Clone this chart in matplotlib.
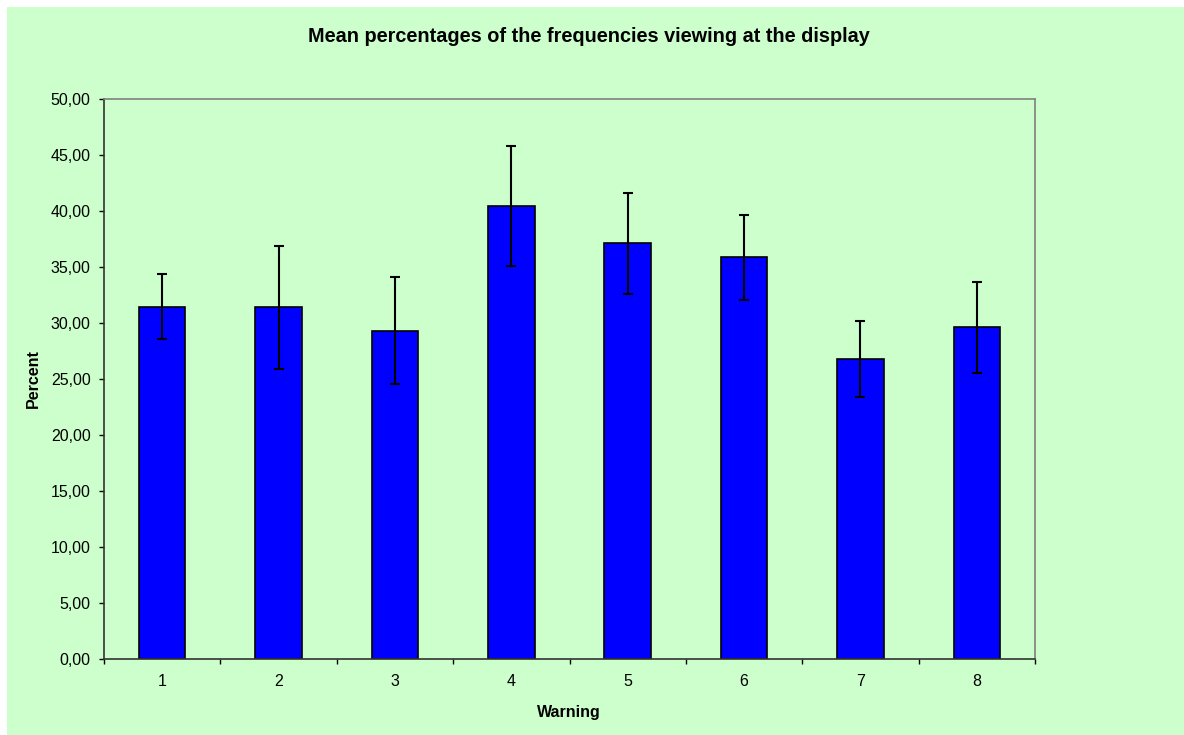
import matplotlib.pyplot as plt
from matplotlib.patches import Rectangle
from matplotlib.ticker import FixedLocator, FuncFormatter, NullFormatter

warnings_ = [1, 2, 3, 4, 5, 6, 7, 8]
mean_pct = [31.45, 31.40, 29.32, 40.45, 37.11, 35.86, 26.79, 29.61]
err_pct = [2.92, 5.47, 4.80, 5.37, 4.51, 3.80, 3.37, 4.05]

plt.rcParams["font.family"] = ["Liberation Sans", "DejaVu Sans"]

fig = plt.figure(figsize=(11.84, 7.35), dpi=100, facecolor="white")
# green chart area with a thin white strip along the top and left
fig.patches.append(Rectangle((7 / 1184, 0), 1, 1 - 7 / 735, transform=fig.transFigure,
                             facecolor="#CCFFCC", edgecolor="none", zorder=-10))

ax = fig.add_axes([104 / 1184, 76 / 735, 931 / 1184, 560 / 735])
ax.set_facecolor("#CCFFCC")

ax.bar(warnings_, mean_pct, width=0.4, color="#0000FF", edgecolor="black", linewidth=1.2, zorder=2)
ax.errorbar(warnings_, mean_pct, yerr=err_pct, fmt="none", ecolor="black",
            elinewidth=1.5, capsize=3.8, capthick=1.5, zorder=3)

ax.set_xlim(0.5, 8.5)
ax.set_ylim(0, 50)
ax.set_yticks(range(0, 51, 5))
ax.yaxis.set_major_formatter(FuncFormatter(lambda v, _: f"{v:.2f}".replace(".", ",")))

# category labels sit between the boundary ticks
ax.set_xticks(warnings_)
ax.set_xticklabels([str(w) for w in warnings_])
ax.xaxis.set_minor_locator(FixedLocator([k + 0.5 for k in range(0, 9)]))
ax.xaxis.set_minor_formatter(NullFormatter())
ax.tick_params(axis="x", which="major", length=0, pad=11, labelsize=11.5)
ax.tick_params(axis="x", which="minor", length=3.6, width=1, direction="out", color="black")
ax.tick_params(axis="y", length=3.6, width=1, direction="out", labelsize=11.5, pad=6, color="black")

for side in ("top", "right"):
    ax.spines[side].set_color("#808080")
    ax.spines[side].set_linewidth(1.2)
for side in ("left", "bottom"):
    ax.spines[side].set_color("#333333")
    ax.spines[side].set_linewidth(1.2)

fig.text(589 / 1184, 1 - 37 / 735, "Mean percentages of the frequencies viewing at the display",
         ha="center", va="center", fontsize=14.3, fontweight="bold")
fig.text(33 / 1184, 1 - 379 / 735, "Percent", rotation=90, ha="center", va="center",
         fontsize=11.5, fontweight="bold")
fig.text(569 / 1184, 1 - 712 / 735, "Warning", ha="center", va="center",
         fontsize=11.5, fontweight="bold")

fig.savefig("out.png", dpi=100, facecolor=fig.get_facecolor())
